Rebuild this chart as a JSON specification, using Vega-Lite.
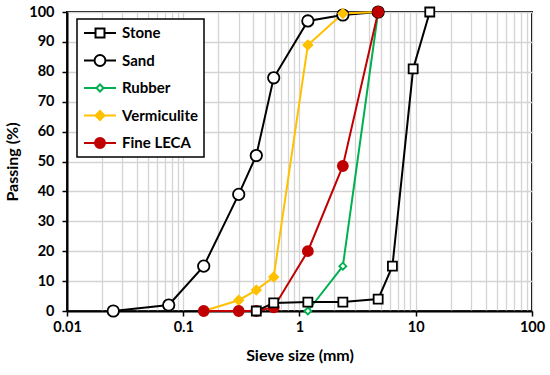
{
  "$schema": "https://vega.github.io/schema/vega-lite/v6.json",
  "width": 465,
  "height": 299,
  "autosize": {"type": "none"},
  "padding": {"left": 67, "top": 12, "right": 18, "bottom": 64},
  "background": "white",
  "config": {
    "view": {"stroke": "black", "strokeWidth": 2},
    "font": "Lato",
    "axis": {
      "labelFont": "Lato", "labelFontSize": 14.5, "labelFontWeight": "bold", "labelColor": "black",
      "titleFont": "Lato", "titleFontSize": 16, "titleFontWeight": "bold", "titleColor": "black",
      "domainColor": "black", "domainWidth": 2, "tickColor": "black", "tickWidth": 1.5, "tickSize": 5,
      "gridColor": "#d4d4d4", "gridWidth": 1.3
    },
    "legend": {"strokeWidth": 1.5}
  },
  "data": {
    "values": [
      {"series": "Sand", "size": 0.025, "passing": 0},
      {"series": "Sand", "size": 0.075, "passing": 2},
      {"series": "Sand", "size": 0.15, "passing": 15},
      {"series": "Sand", "size": 0.3, "passing": 39},
      {"series": "Sand", "size": 0.425, "passing": 52},
      {"series": "Sand", "size": 0.6, "passing": 78},
      {"series": "Sand", "size": 1.18, "passing": 97},
      {"series": "Sand", "size": 2.36, "passing": 99},
      {"series": "Sand", "size": 4.75, "passing": 100},
      {"series": "Vermiculite", "size": 0.15, "passing": 0},
      {"series": "Vermiculite", "size": 0.3, "passing": 3.6},
      {"series": "Vermiculite", "size": 0.425, "passing": 7},
      {"series": "Vermiculite", "size": 0.6, "passing": 11.4},
      {"series": "Vermiculite", "size": 1.18, "passing": 89},
      {"series": "Vermiculite", "size": 2.36, "passing": 99.5},
      {"series": "Vermiculite", "size": 4.75, "passing": 100},
      {"series": "Rubber", "size": 1.18, "passing": 0},
      {"series": "Rubber", "size": 2.36, "passing": 15},
      {"series": "Rubber", "size": 4.75, "passing": 100},
      {"series": "Fine LECA", "size": 0.15, "passing": 0},
      {"series": "Fine LECA", "size": 0.3, "passing": 0},
      {"series": "Fine LECA", "size": 0.425, "passing": 0},
      {"series": "Fine LECA", "size": 0.6, "passing": 1.2},
      {"series": "Fine LECA", "size": 1.18, "passing": 20},
      {"series": "Fine LECA", "size": 2.36, "passing": 48.5},
      {"series": "Fine LECA", "size": 4.75, "passing": 100},
      {"series": "Stone", "size": 0.425, "passing": 0},
      {"series": "Stone", "size": 0.6, "passing": 2.7},
      {"series": "Stone", "size": 1.18, "passing": 3},
      {"series": "Stone", "size": 2.36, "passing": 3},
      {"series": "Stone", "size": 4.75, "passing": 4},
      {"series": "Stone", "size": 6.3, "passing": 15},
      {"series": "Stone", "size": 9.5, "passing": 81},
      {"series": "Stone", "size": 13.2, "passing": 100}
    ]
  },
  "encoding": {
    "x": {
      "field": "size", "type": "quantitative",
      "scale": {"type": "log", "domain": [0.01, 100]},
      "title": "Sieve size (mm)",
      "axis": {
        "values": [0.01,0.02,0.03,0.04,0.05,0.06,0.07,0.08,0.09,0.1,0.2,0.3,0.4,0.5,0.6,0.7,0.8,0.9,1,2,3,4,5,6,7,8,9,10,20,30,40,50,60,70,80,90,100],
        "format": "~g",
        "labelExpr": "indexof([0.01,0.1,1,10,100], datum.value) >= 0 ? datum.label : ''",
        "tickOpacity": {"condition": {"test": "indexof([0.01,0.1,1,10,100], datum.value) >= 0", "value": 1}, "value": 0},
        "labelPadding": 4,
        "titlePadding": 14,
        "labelFlush": false
      }
    },
    "y": {
      "field": "passing", "type": "quantitative",
      "scale": {"domain": [0, 100]},
      "title": "Passing (%)",
      "axis": {"values": [0,10,20,30,40,50,60,70,80,90,100], "labelPadding": 8, "titlePadding": 8}
    }
  },
  "layer": [
    {
      "mark": {"type": "line", "strokeWidth": 2},
      "encoding": {
        "color": {
          "field": "series", "type": "nominal",
          "scale": {"domain": ["Stone", "Sand", "Rubber", "Vermiculite", "Fine LECA"], "range": ["black", "black", "#00B050", "#FFC000", "#C00000"]},
          "legend": null
        },
        "detail": {"field": "series"}
      }
    },
    {
      "mark": {"type": "point", "filled": true, "strokeWidth": 1.8, "opacity": 1},
      "encoding": {
        "stroke": {
          "field": "series", "type": "nominal",
          "scale": {"domain": ["Stone", "Sand", "Rubber", "Vermiculite", "Fine LECA"], "range": ["black", "black", "#00B050", "#FFC000", "#C00000"]},
          "legend": null
        },
        "fill": {
          "field": "series", "type": "nominal",
          "scale": {"domain": ["Stone", "Sand", "Rubber", "Vermiculite", "Fine LECA"], "range": ["white", "white", "white", "#FFC000", "#C00000"]},
          "legend": null
        },
        "shape": {
          "field": "series", "type": "nominal",
          "scale": {"domain": ["Stone", "Sand", "Rubber", "Vermiculite", "Fine LECA"], "range": ["square", "circle", "diamond", "diamond", "circle"]},
          "legend": null
        },
        "size": {
          "field": "series", "type": "nominal",
          "scale": {"type": "ordinal", "domain": ["Stone", "Sand", "Rubber", "Vermiculite", "Fine LECA"], "range": [81, 130, 49, 80, 100]},
          "legend": null
        }
      }
    },
    {
      "transform": [{"filter": "datum.passing < -1"}],
      "mark": {"type": "point"},
      "encoding": {
        "shape": {
          "field": "series", "type": "nominal",
          "scale": {
            "domain": ["Stone", "Sand", "Rubber", "Vermiculite", "Fine LECA"],
            "range": [
              "M-1,0H-0.28M0.28,0H1M-0.28,-0.28H0.28V0.28H-0.28Z",
              "M-1,0H-0.34M0.34,0H1M-0.34,0A0.34,0.34,0,1,0,0.34,0A0.34,0.34,0,1,0,-0.34,0Z",
              "M-1,0H-0.22M0.22,0H1M-0.22,0L0,-0.22L0.22,0L0,0.22Z",
              "M-1,0H1M-0.28,0L0,-0.28L0.28,0L0,0.28Z",
              "M-1,0H1M-0.31,0A0.31,0.31,0,1,0,0.31,0A0.31,0.31,0,1,0,-0.31,0Z"
            ]
          },
          "legend": {
            "title": null,
            "orient": "none",
            "legendX": 10,
            "legendY": 7,
            "padding": 6,
            "strokeColor": "black",
            "fillColor": "white",
            "clipHeight": 16,
            "rowPadding": 11.5,
            "labelFont": "Lato",
            "labelFontSize": 15,
            "labelFontWeight": "bold",
            "labelColor": "black",
            "labelOffset": 5,
            "symbolSize": 1024,
            "symbolStrokeWidth": 2,
            "symbolOpacity": 1,
            "encoding": {
              "symbols": {
                "stroke": {
                  "condition": [
                    {"test": "datum.value === 'Rubber'", "value": "#00B050"},
                    {"test": "datum.value === 'Vermiculite'", "value": "#FFC000"},
                    {"test": "datum.value === 'Fine LECA'", "value": "#C00000"}
                  ],
                  "value": "black"
                },
                "fill": {
                  "condition": [
                    {"test": "datum.value === 'Vermiculite'", "value": "#FFC000"},
                    {"test": "datum.value === 'Fine LECA'", "value": "#C00000"}
                  ],
                  "value": "white"
                }
              }
            }
          }
        }
      }
    }
  ],
  "resolve": {"scale": {"shape": "independent"}}
}
